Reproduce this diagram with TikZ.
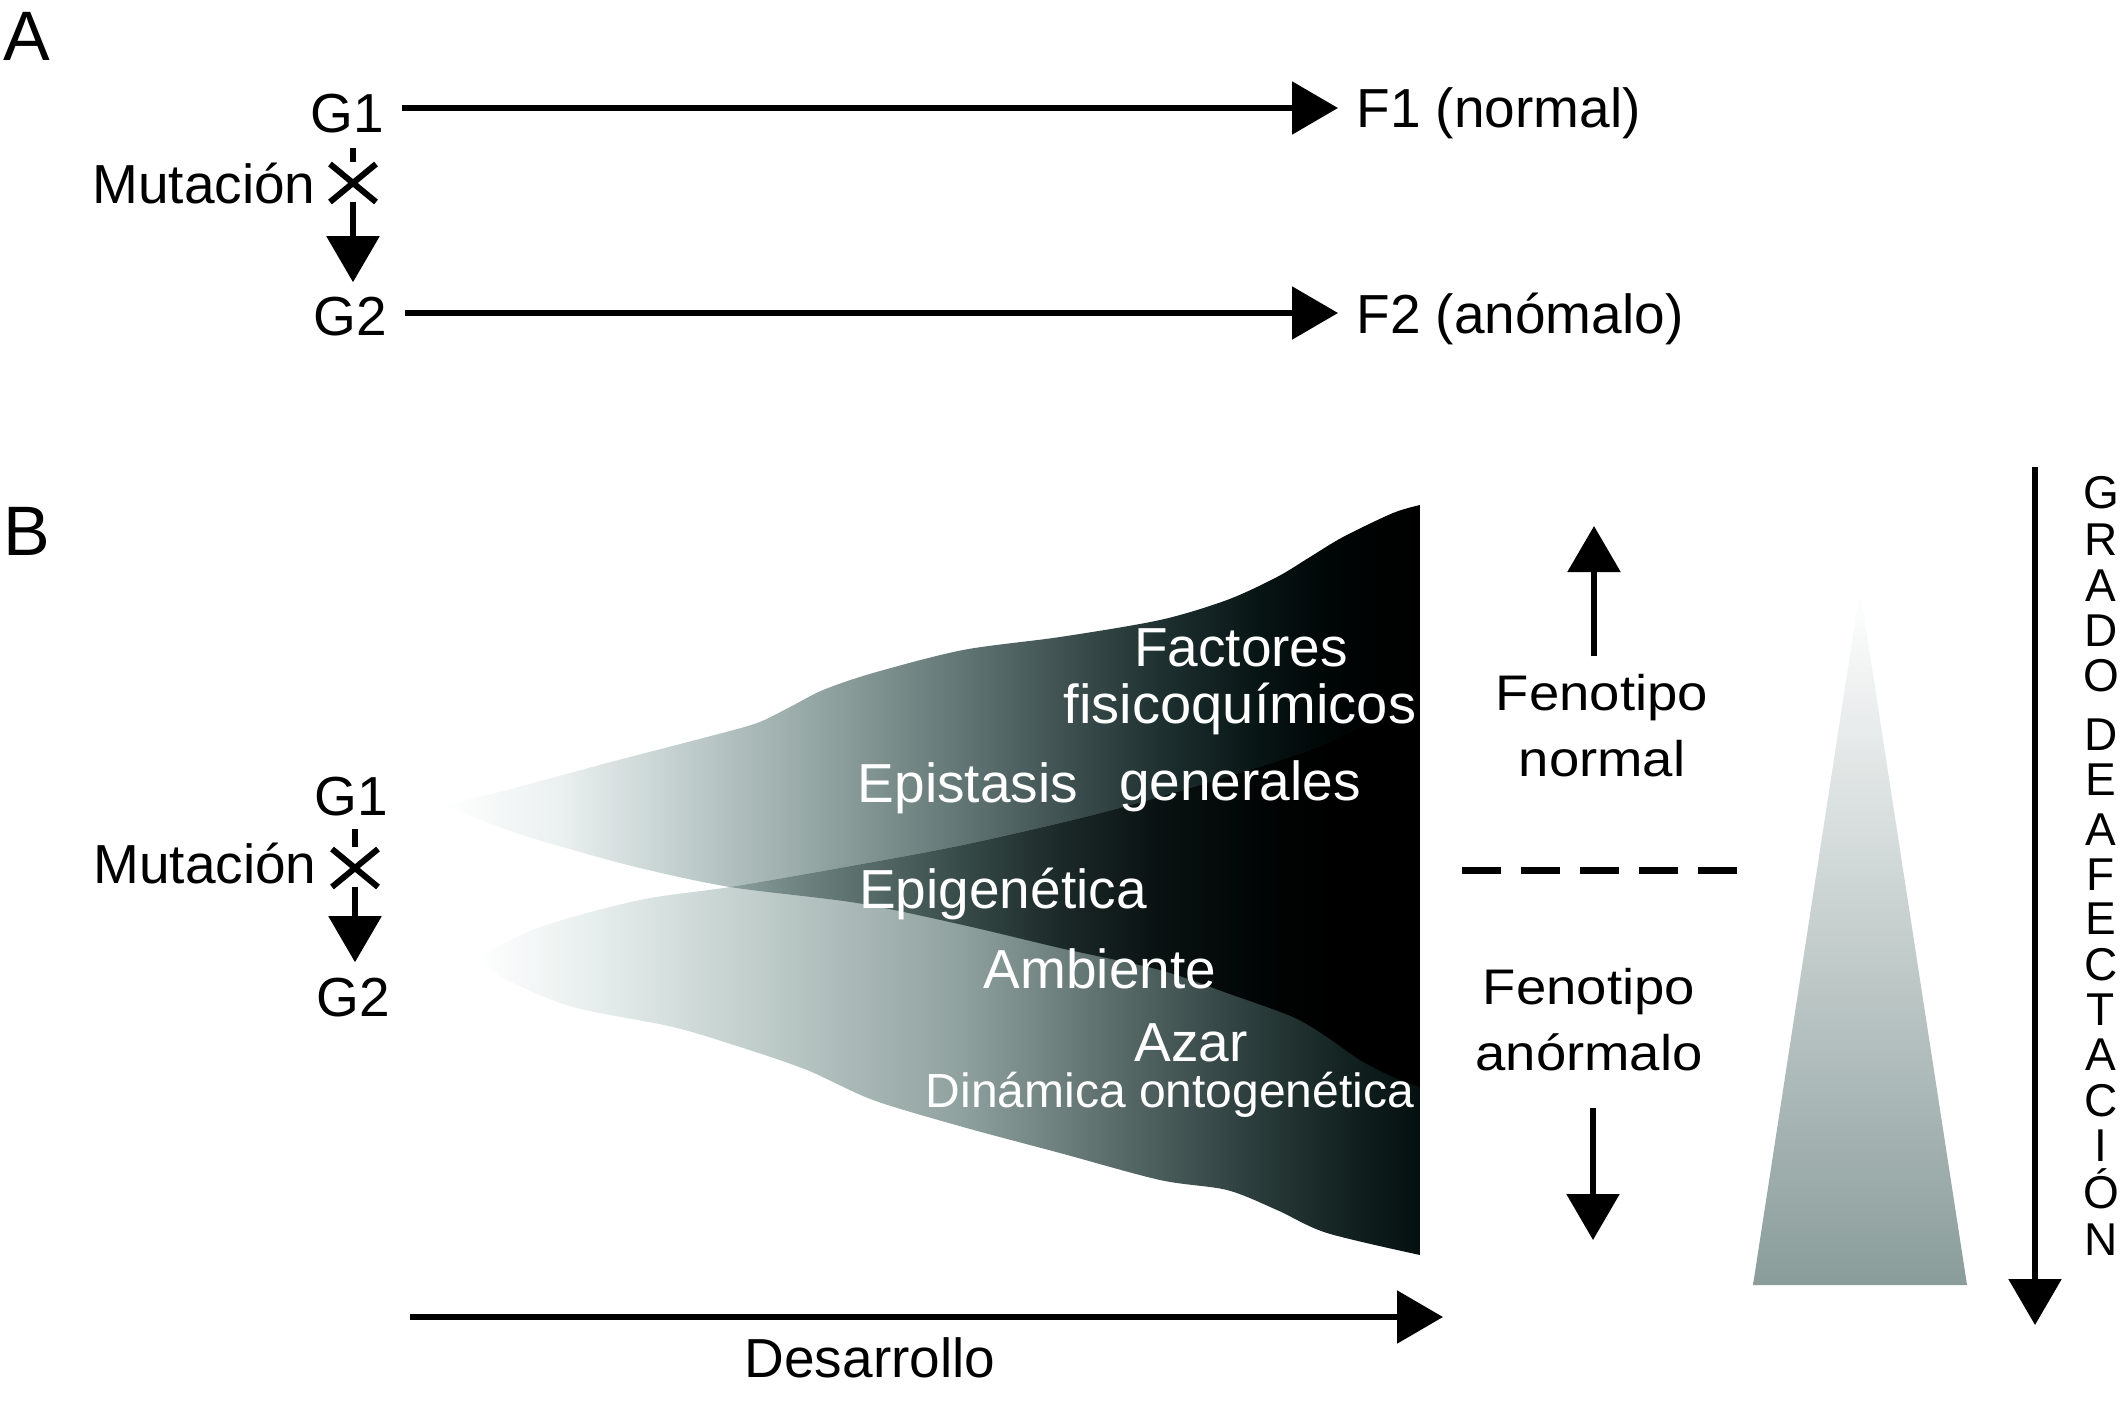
\documentclass[tikz,border=0pt]{standalone}
\usepackage{fontspec}
\setmainfont{Liberation Sans}
\usetikzlibrary{arrows.meta,shapes.misc}

\definecolor{uf1}{rgb}{0.92,0.94,0.94}
\definecolor{uf2}{rgb}{0.80,0.845,0.84}
\definecolor{uf3}{rgb}{0.60,0.67,0.66}
\definecolor{uf4}{rgb}{0.38,0.46,0.455}
\definecolor{uf5}{rgb}{0.25,0.32,0.32}
\definecolor{uf6}{rgb}{0.12,0.19,0.19}
\definecolor{uf7}{rgb}{0.03,0.08,0.08}
\definecolor{uf8}{rgb}{0.0,0.02,0.02}
\definecolor{lf1}{rgb}{0.90,0.93,0.925}
\definecolor{lf2}{rgb}{0.76,0.81,0.80}
\definecolor{lf3}{rgb}{0.56,0.63,0.62}
\definecolor{lf4}{rgb}{0.43,0.50,0.49}
\definecolor{lf5}{rgb}{0.29,0.36,0.355}
\definecolor{lf6}{rgb}{0.16,0.23,0.225}
\definecolor{lf7}{rgb}{0.06,0.12,0.115}
\definecolor{lf8}{rgb}{0.02,0.06,0.06}
\definecolor{ov1}{rgb}{0.856,0.893,0.893}
\definecolor{ov2}{rgb}{0.672,0.744,0.735}
\definecolor{ov3}{rgb}{0.432,0.516,0.502}
\definecolor{ov4}{rgb}{0.213,0.290,0.282}
\definecolor{ov5}{rgb}{0.108,0.16,0.157}
\definecolor{ov6}{rgb}{0.035,0.068,0.067}
\definecolor{ov7}{rgb}{0.005,0.018,0.018}
\definecolor{triBot}{rgb}{0.54,0.615,0.605}

\pgfdeclarehorizontalshading{upfanshade}{100bp}{color(0bp)=(white); color(25bp)=(white); color(31bp)=(uf1); color(35.6bp)=(uf2); color(43.3bp)=(uf3); color(51.6bp)=(uf4); color(56.6bp)=(uf5); color(61.7bp)=(uf6); color(66.8bp)=(uf7); color(70.4bp)=(uf8); color(75bp)=(black); color(100bp)=(black)}
\pgfdeclarehorizontalshading{lofanshade}{100bp}{color(0bp)=(white); color(25bp)=(white); color(31.5bp)=(lf1); color(39.5bp)=(lf2); color(50.8bp)=(lf3); color(55.9bp)=(lf4); color(61.2bp)=(lf5); color(66.5bp)=(lf6); color(71.8bp)=(lf7); color(75bp)=(lf8); color(100bp)=(lf8)}
\pgfdeclarehorizontalshading{ovshade}{100bp}{color(0bp)=(white); color(25bp)=(white); color(31bp)=(ov1); color(35.6bp)=(ov2); color(43.3bp)=(ov3); color(51.6bp)=(ov4); color(56.6bp)=(ov5); color(61.7bp)=(ov6); color(66.8bp)=(ov7); color(70.4bp)=(black); color(100bp)=(black)}

\def\upfanpath{plot[smooth,tension=0.5] coordinates {(443,805) (507,790) (607,763) (707,737) (757,723) (790,707) (823,690) (873,673) (963,650) (1060,637) (1160,620) (1227,600) (1277,577) (1310,557) (1343,537) (1393,513) (1420,505)} -- plot[smooth,tension=0.5] coordinates {(1420,1087) (1393,1077) (1360,1060) (1327,1037) (1293,1017) (1227,993) (1160,970) (1060,948) (963,925) (857,903) (730,887) (640,868) (573,850) (507,830) (443,805)} -- cycle}
\def\lofanpath{plot[smooth,tension=0.5] coordinates {(477,958) (540,927) (640,900) (730,887) (840,868) (963,845) (1093,815) (1200,785) (1327,743) (1420,690)} -- plot[smooth,tension=0.5] coordinates {(1420,1255) (1327,1233) (1277,1210) (1227,1190) (1160,1180) (1060,1153) (963,1127) (873,1100) (807,1070) (740,1047) (673,1027) (573,1007) (507,980) (477,958)} -- cycle}

\begin{document}
\begin{tikzpicture}[x=0.5pt,y=-0.5pt,
  lbl/.style={font=\fontsize{27.5pt}{33pt}\selectfont, inner sep=0pt},
  big/.style={font=\fontsize{35pt}{40pt}\selectfont, inner sep=0pt},
  wlbl/.style={lbl, text=white},
  fen/.style={font=\fontsize{25pt}{33pt}\selectfont, inner sep=0pt, align=center},
  gr/.style={font=\fontsize{23pt}{25pt}\selectfont, inner sep=0pt, text height=16.5pt, text depth=0pt},
  ln/.style={line width=2.8pt},
  arr/.style={ln, -{Triangle[length=23pt,width=26pt]}},
  xmark/.style={cross out, draw, line width=3pt, minimum width=20pt, minimum height=16pt, inner sep=0pt}]
\useasboundingbox (0,0) rectangle (2124,1403);

% ---------- Part A ----------
\node[big, anchor=base west] (labA) at (3,60) {A};
\node[lbl, anchor=base] (g1a) at (347,132) {G1};
\node[lbl, anchor=base] (g2a) at (350,335) {G2};
\node[lbl, anchor=base east] (muta) at (316,203) {Mutación};
\node[xmark] (xa) at (353,183) {};
\node[lbl, anchor=base west] (f1a) at (1356,127) {F1 (normal)};
\node[lbl, anchor=base west] (f2a) at (1356,333) {F2 (anómalo)};
\coordinate (rowA1) at (0,108);
\coordinate (rowA2) at (0,313);
\draw[arr, shorten <=9pt, shorten >=9pt] (g1a.east |- rowA1) -- (f1a.west |- rowA1);
\draw[arr, shorten <=9pt, shorten >=9pt] (g2a.east |- rowA2) -- (f2a.west |- rowA2);
\draw[ln, shorten <=7.5pt, shorten >=1pt] (xa.north |- g1a.south) -- (xa.north);
\draw[arr, shorten >=7pt] (xa.south) -- (xa.south |- g2a.north);

% ---------- Part B ----------
\node[big, anchor=base west] (labB) at (3,555) {B};

\begin{scope}
  \clip \upfanpath;
  \shade[shading=upfanshade] (443,480) rectangle (1420,1270);
\end{scope}
\begin{scope}
  \clip \lofanpath;
  \shade[shading=lofanshade] (477,480) rectangle (1420,1270);
\end{scope}
\begin{scope}
  \clip \upfanpath;
  \clip \lofanpath;
  \shade[shading=ovshade] (443,480) rectangle (1420,1270);
\end{scope}

\node[wlbl, anchor=base] (fac) at (1241,666) {Factores};
\node[wlbl, anchor=base] (fis) at (1240,723) {\scalebox{1.02}[1]{fisicoquímicos}};
\node[wlbl, anchor=base] (epis) at (968,802) {Epistasis};
\node[wlbl, anchor=base] (gen) at (1240,800) {generales};
\node[wlbl, anchor=base] (epig) at (1003,908) {Epigenética};
\node[wlbl, anchor=base] (amb) at (1100,988) {Ambiente};
\node[wlbl, anchor=base] (azar) at (1191,1061) {Azar};
\node[wlbl, anchor=base, font=\fontsize{24pt}{28pt}\selectfont] (din) at (1170,1107) {Dinámica ontogenética};

\node[lbl, anchor=base] (g1b) at (351,815) {G1};
\node[lbl, anchor=base] (g2b) at (353,1016) {G2};
\node[lbl, anchor=base east] (mutb) at (317,883) {Mutación};
\node[xmark] (xb) at (355,868) {};
\draw[ln, shorten <=6.5pt, shorten >=1pt] (xb.north |- g1b.south) -- (xb.north);
\draw[arr, shorten >=7.5pt] (xb.south) -- (xb.south |- g2b.north);

% phenotype column
\node[fen] (fn) at (1602,726) {\scalebox{1.09}[1]{Fenotipo}\\\scalebox{1.09}[1]{normal}};
\node[fen] (fa) at (1589,1020) {\scalebox{1.09}[1]{Fenotipo}\\\scalebox{1.09}[1]{anórmalo}};
\coordinate (upTip) at (1594,526);
\coordinate (dnTip) at (1593,1240);
\draw[arr, shorten <=9pt] (upTip |- fn.north) -- (upTip);
\draw[arr, shorten <=18pt] (dnTip |- fa.south) -- (dnTip);
\coordinate (dashL) at (1462,870);
\coordinate (dashR) at (1737,870);
\draw[line width=3.5pt, dash pattern=on 19.5pt off 10pt] (dashL) -- (dashR);

% triangle
\shade[top color=white, bottom color=triBot] (1860,590) -- (1967,1285) -- (1753,1285) -- cycle;

% grado de afectacion
\coordinate (grTop) at (2035,467);
\coordinate (grTip) at (2035,1325);
\draw[arr] (grTop) -- (grTip);
\foreach \l/\yy in {G/492,R/539,A/585,D/630,O/675,D/734,E/779,A/829,F/874,E/918,C/964,T/1009,A/1054,C/1100,I/1145,Ó/1192,N/1239}
  \node[gr, name=gr-\yy] at (2101,\yy) {\l};

% desarrollo
\coordinate (devL) at (410,1317);
\coordinate (devR) at (1443,1317);
\draw[arr] (devL) -- (devR);
\node[lbl, anchor=base] (des) at (870,1377) {Desarrollo};
\end{tikzpicture}
\end{document}
